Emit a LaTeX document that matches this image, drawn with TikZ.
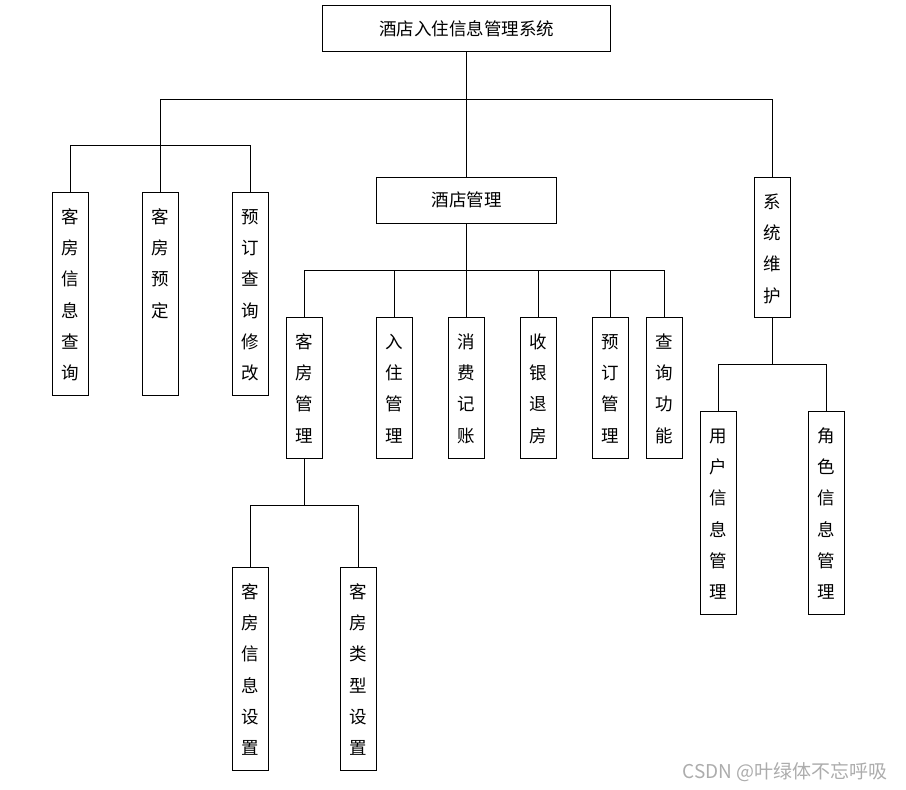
\documentclass[tikz,border=0pt]{standalone}
\usepackage{fontspec}
\setmainfont{Noto Sans CJK SC}
\usepackage{tikz}
\usetikzlibrary{positioning}

\begin{document}
\begin{tikzpicture}[
    x=1pt, y=-1pt,
    every node/.style={font=\fontsize{17.5}{31.2}\selectfont},
    hbox/.style={
      draw, line width=0.8pt, inner sep=0pt, align=center
    },
    vbox/.style={
      draw, line width=0.8pt, inner sep=0pt, anchor=north,
      minimum width=36pt, text width=36pt, align=center,
      text height=31pt
    },
    link/.style={line width=0.8pt}
  ]
    \useasboundingbox (0,0) rectangle (906,790);

    % top level
    \node[hbox, minimum width=288pt, minimum height=46pt] (root) at (466.5,28.5)
      {酒店入住信息管理系统};
    \coordinate (b0) at (466.5,99);
    \coordinate (lj) at (160.5,145);

    % left group
    \node[vbox, text depth=172pt] (kfxxcx) at (70.5,192) {客\\房\\信\\息\\查\\询};
    \node[vbox, text depth=172pt] (kfyd)   at (160.5,192) {客\\房\\预\\定};
    \node[vbox, text depth=172pt] (ydcx)   at (250.5,192) {预\\订\\查\\询\\修\\改};

    % hotel management
    \node[hbox, minimum width=180pt, minimum height=46pt] (jdgl) at (466.5,200)
      {酒店管理};
    \node[vbox, text depth=110pt] (kfgl) at (304.5,317) {客\\房\\管\\理};
    \node[vbox, text depth=110pt] (rzgl) at (394.5,317) {入\\住\\管\\理};
    \node[vbox, text depth=110pt] (xfjz) at (466.5,317) {消\\费\\记\\账};
    \node[vbox, text depth=110pt] (sytf) at (538.5,317) {收\\银\\退\\房};
    \node[vbox, text depth=110pt] (ydgl) at (610.5,317) {预\\订\\管\\理};
    \node[vbox, text depth=110pt] (cxgn) at (664.5,317) {查\\询\\功\\能};
    \node[vbox, text depth=172pt] (kfxxsz) at (250.5,567) {客\\房\\信\\息\\设\\置};
    \node[vbox, text depth=172pt] (kflxsz) at (358.5,567) {客\\房\\类\\型\\设\\置};

    % system maintenance
    \node[vbox, text depth=109pt] (xtwh) at (772.5,177) {系\\统\\维\\护};
    \node[vbox, text depth=172pt] (yhxx) at (718.5,411) {用\\户\\信\\息\\管\\理};
    \node[vbox, text depth=172pt] (jsxx) at (826.5,411) {角\\色\\信\\息\\管\\理};

    % connectors
    \draw[link] (root.south) -- (b0);
    \draw[link] (b0) -| (lj);
    \draw[link] (b0) -- (jdgl.north);
    \draw[link] (b0) -| (xtwh.north);
    \foreach \n in {kfxxcx,kfyd,ydcx}
      \draw[link] (lj) -| (\n.north);

    \draw[link] (jdgl.south) -- ++(0,47) coordinate (b1);
    \foreach \n in {kfgl,rzgl,xfjz,sytf,ydgl,cxgn}
      \draw[link] (b1) -| (\n.north);

    \draw[link] (kfgl.south) -- ++(0,47) coordinate (b2);
    \foreach \n in {kfxxsz,kflxsz}
      \draw[link] (b2) -| (\n.north);

    \draw[link] (xtwh.south) -- ++(0,47) coordinate (b3);
    \foreach \n in {yhxx,jsxx}
      \draw[link] (b3) -| (\n.north);

    % watermark
    \node[anchor=east, text=gray!65, font=\fontsize{19}{22}\selectfont] (mark) at (891,772)
      {CSDN @叶绿体不忘呼吸};
\end{tikzpicture}
\end{document}
